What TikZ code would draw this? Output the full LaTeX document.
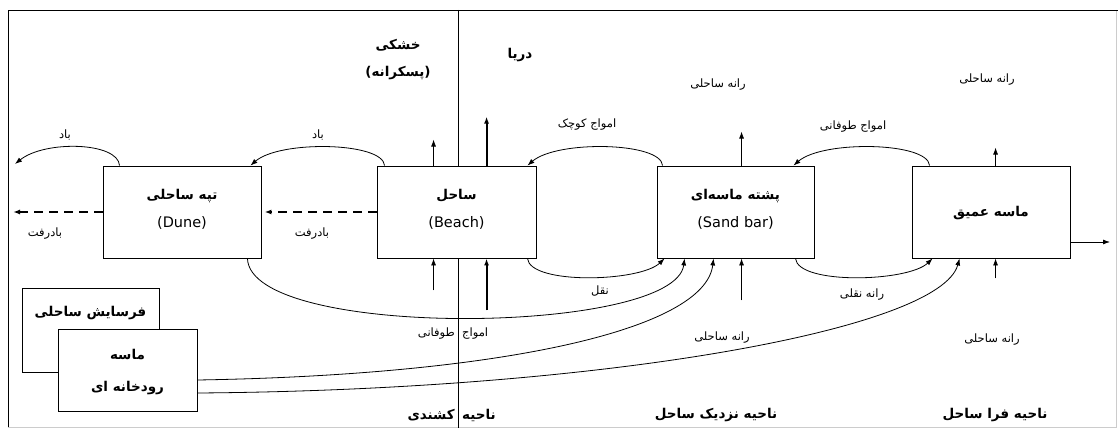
\documentclass[tikz,border=0pt]{standalone}
\usepackage{fontspec}
\usetikzlibrary{arrows.meta,calc}
\TeXXeTstate=1
\setmainfont{DejaVu Sans}
\newfontfamily\arabicfont[Script=Arabic]{DejaVu Sans}
\newcommand\fatext[1]{{\arabicfont\beginR #1\endR}}
\begin{document}
\begin{tikzpicture}[x=1pt,y=-1pt,
  >={Latex[length=7pt,width=5pt]},
  boxnode/.style={draw,line width=0.9pt,fill=white,inner sep=0pt},
  boxlabel/.style={font=\bfseries\fontsize{13.5}{15}\selectfont,inner sep=1pt},
  latlabel/.style={font=\fontsize{14.5}{16}\selectfont,inner sep=1pt},
  smalllabel/.style={font=\fontsize{11.5}{13}\selectfont,inner sep=1pt},
  zonelabel/.style={font=\bfseries\fontsize{13.5}{15}\selectfont,inner sep=1pt},
  flow/.style={->,line width=0.8pt},
  thickflow/.style={->,line width=2pt},
  dashflow/.style={->,line width=2.2pt,dash pattern=on 9pt off 6pt}]
\useasboundingbox (0,0) rectangle (1118,430);
\fill[white] (0,0) rectangle (1118,430);
% frame
\draw[gray!40,line width=0.6pt] (1116,10) -- (1116,427) -- (8,427);
\draw[line width=0.8pt] (8,427) -- (8,10) -- (1118,10);
\draw[line width=0.8pt] (458,10) -- (458,428);

% main boxes
\node[boxnode,minimum width=158pt,minimum height=92pt] (dune) at (182,212) {};
\node[boxnode,minimum width=159pt,minimum height=92pt] (beach) at (456.5,212) {};
\node[boxnode,minimum width=157pt,minimum height=92pt] (sandbar) at (735.5,212) {};
\node[boxnode,minimum width=158pt,minimum height=92pt] (deep) at (991,212) {};
\node[boxnode,minimum width=137pt,minimum height=84pt] (erosion) at (90.5,330) {};
\node[boxnode,minimum width=139pt,minimum height=82pt] (river) at (127.5,370) {};

% box labels
\node[boxlabel] (duneA) at (182,196) {\fatext{تپه ساحلی}};
\node[latlabel] (duneB) at (182,223) {(Dune)};
\node[boxlabel] (beachA) at (456.5,196) {\fatext{ساحل}};
\node[latlabel] (beachB) at (456.5,223) {(Beach)};
\node[boxlabel] (sandA) at (735.5,196) {\fatext{پشته ماسه^^^^200cای}};
\node[latlabel] (sandB) at (735.5,223) {(Sand bar)};
\node[boxlabel] (deepA) at (991,213) {\fatext{ماسه عمیق}};
\node[boxlabel] (erosionA) at (90.5,313) {\fatext{فرسایش ساحلی}};
\node[boxlabel] (riverA) at (127.5,355) {\fatext{ماسه}};
\node[boxlabel] (riverB) at (127.5,388) {\fatext{رودخانه ای}};

% region labels
\node[zonelabel] (khoshki) at (398,45) {\fatext{خشکی}};
\node[zonelabel] (paskarane) at (398,73) {\fatext{(پسکرانه)}};
\node[zonelabel] (darya) at (520,55) {\fatext{دریا}};
\node[zonelabel,anchor=west] (zone1a) at (461,415) {\fatext{ناحیه}};
\node[zonelabel,anchor=east] (zone1b) at (456,415) {\fatext{کشندی}};
\node[zonelabel] (zone2) at (716,415) {\fatext{ناحیه نزدیک ساحل}};
\node[zonelabel] (zone3) at (995,415) {\fatext{ناحیه فرا ساحل}};

% small labels
\node[smalllabel] (rane1) at (718,85) {\fatext{رانه ساحلی}};
\node[smalllabel] (rane2) at (987,80) {\fatext{رانه ساحلی}};
\node[smalllabel] (amvajK) at (587,125) {\fatext{امواج کوچک}};
\node[smalllabel] (amvajT) at (853,127) {\fatext{امواج طوفانی}};
\node[smalllabel] (bad1) at (65,135) {\fatext{باد}};
\node[smalllabel] (bad2) at (318,135) {\fatext{باد}};
\node[smalllabel] (badraft1) at (45,234) {\fatext{بادرفت}};
\node[smalllabel] (badraft2) at (312,234) {\fatext{بادرفت}};
\node[smalllabel] (naql) at (600,291) {\fatext{نقل}};
\node[smalllabel] (raneN) at (862,295) {\fatext{رانه نقلی}};
\node[smalllabel,anchor=west] (amvajB1) at (461,334) {\fatext{امواج}};
\node[smalllabel,anchor=east] (amvajB2) at (456,334) {\fatext{طوفانی}};
\node[smalllabel] (rane3) at (722,338) {\fatext{رانه ساحلی}};
\node[smalllabel] (rane4) at (992,340) {\fatext{رانه ساحلی}};

% free ends
\coordinate (windEnd) at (15,164);
\coordinate (dashEnd) at (13,212);
\coordinate (outEnd) at (1110,242);

% wind arcs
\draw[flow] ($(dune.north west)+(17,0)$) .. controls (118,142) and (45,140) .. (windEnd);
\draw[flow] ($(beach.north west)+(8,0)$) .. controls (383,142) and (280,140) .. ($(dune.north east)+(-11,0)$);
% waves arcs
\draw[flow] ($(sandbar.north west)+(6,0)$) .. controls (661,142) and (557,140) .. ($(beach.north east)+(-9,0)$);
\draw[flow] ($(deep.north west)+(18,0)$) .. controls (928,142) and (823,140) .. ($(sandbar.north east)+(-21,0)$);
% dashed
\draw[dashflow] (beach.west) -- ($(dune.east)+(3,0)$);
\draw[dashflow] (dune.west) -- (dashEnd);
% up arrows above
\draw[flow] ($(beach.north west)+(57,0)$) -- ($(beach.north west)+(57,-26)$);
\draw[thickflow] ($(beach.north west)+(110,0)$) -- ($(beach.north west)+(110,-49)$);
\draw[flow] ($(sandbar.north west)+(85,0)$) -- ($(sandbar.north west)+(85,-34)$);
\draw[flow] ($(deep.north west)+(84,0)$) -- ($(deep.north west)+(84,-18)$);
% up arrows below
\draw[flow] ($(beach.south west)+(57,32)$) -- ($(beach.south west)+(57,0)$);
\draw[thickflow] ($(beach.south west)+(110,52)$) -- ($(beach.south west)+(110,0)$);
\draw[flow] ($(sandbar.south west)+(85,42)$) -- ($(sandbar.south west)+(85,0)$);
\draw[flow] ($(deep.south west)+(84,20)$) -- ($(deep.south west)+(84,0)$);
% bottom arcs
\draw[flow] ($(beach.south east)+(-9,0)$) .. controls (530,285) and (640,282) .. ($(sandbar.south west)+(8,0)$);
\draw[flow] ($(sandbar.south east)+(-19,0)$) .. controls (798,285) and (908,282) .. ($(deep.south west)+(21,0)$);
% long curves
\draw[flow] ($(dune.south east)+(-14,0)$) .. controls (250,340) and (675,335) .. ($(sandbar.south west)+(28,0)$);
\draw[flow] ($(river.east)+(0,10)$) .. controls (500,375) and (705,330) .. ($(sandbar.south west)+(57,0)$);
\draw[flow] ($(river.east)+(0,23)$) .. controls (600,390) and (940,330) .. ($(deep.south west)+(48,0)$);
% out arrow
\draw[flow] ($(deep.east)+(0,30)$) -- (outEnd);
\end{tikzpicture}
\end{document}
